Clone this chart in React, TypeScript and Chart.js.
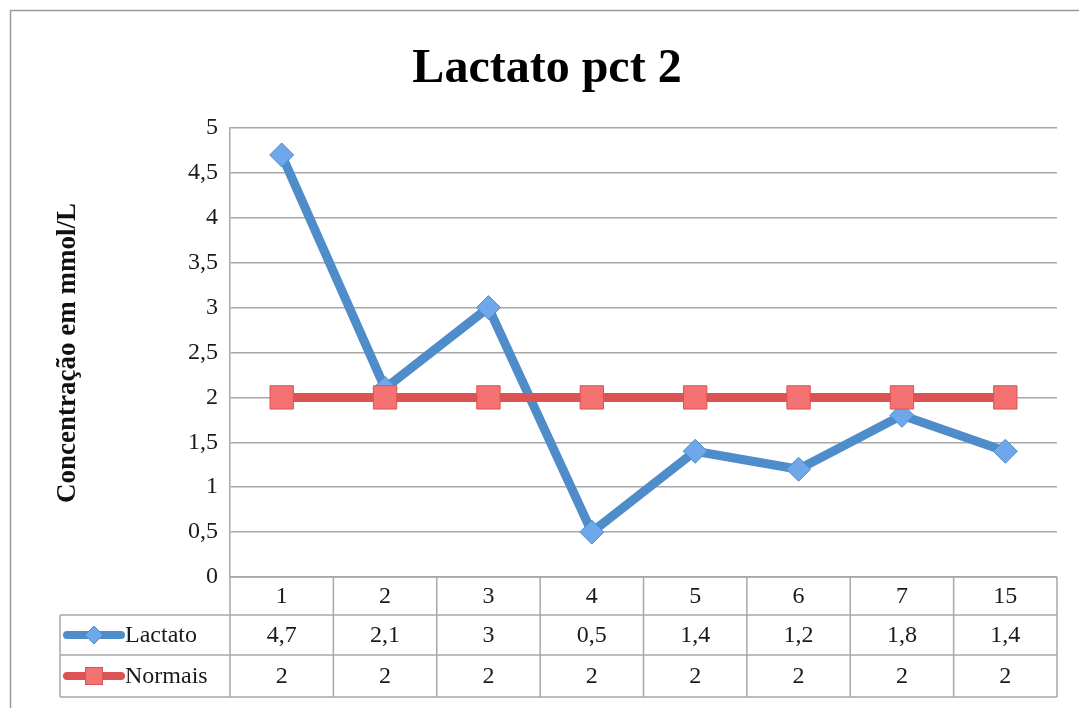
import React, { useEffect, useRef } from "react";
import { Chart, registerables } from "chart.js";

Chart.register(...registerables);

const chartTitle = "Lactato pct 2";
const yAxisTitle = "Concentração em mmol/L";
const categories = ["1", "2", "3", "4", "5", "6", "7", "15"];
const lactatoValues = [4.7, 2.1, 3, 0.5, 1.4, 1.2, 1.8, 1.4];
const normaisValues = [2, 2, 2, 2, 2, 2, 2, 2];
const lactatoTableLabels = ["4,7", "2,1", "3", "0,5", "1,4", "1,2", "1,8", "1,4"];
const normaisTableLabels = ["2", "2", "2", "2", "2", "2", "2", "2"];
const yTickLabels = ["0", "0,5", "1", "1,5", "2", "2,5", "3", "3,5", "4", "4,5", "5"];
const seriesNames = ["Lactato", "Normais"];

const BLUE = "#4f8dca";
const BLUE_FILL = "#6ea8ea";
const RED = "#dc5353";
const RED_FILL = "#f47272";
const GRID = "#a8a8a8";
const SERIF = "'Liberation Serif', 'Times New Roman', serif";

const decorPlugin = {
  id: "decor",
  afterDraw(chart: any) {
    const ctx = chart.ctx as CanvasRenderingContext2D;
    const area = chart.chartArea;
    const xs = chart.scales.x;
    ctx.save();

    // outer frame
    ctx.strokeStyle = "#9a9a9a";
    ctx.lineWidth = 1.5;
    ctx.strokeRect(10.5, 10.5, 1200, 900);

    // title
    ctx.fillStyle = "#000";
    ctx.font = `bold 48px ${SERIF}`;
    ctx.textAlign = "center";
    ctx.textBaseline = "alphabetic";
    ctx.fillText(chartTitle, 547, 82, 272);

    // y axis title
    ctx.save();
    ctx.translate(68, 353);
    ctx.rotate(-Math.PI / 2);
    ctx.font = `bold 27px ${SERIF}`;
    ctx.textAlign = "center";
    ctx.textBaseline = "middle";
    ctx.fillStyle = "#111";
    ctx.fillText(yAxisTitle, 0, 0, 310);
    ctx.restore();

    // data table
    const n = categories.length;
    const step = xs.getPixelForValue(1) - xs.getPixelForValue(0);
    const half = step / 2;
    const left = area.left;
    const right = area.right;
    const rowTops = [area.bottom, area.bottom + 38, area.bottom + 78, area.bottom + 120];
    const tableLeft = 60;

    ctx.strokeStyle = GRID;
    ctx.lineWidth = 1.5;
    ctx.beginPath();
    ctx.moveTo(left, rowTops[0]);
    ctx.lineTo(right, rowTops[0]);
    for (let r = 1; r < rowTops.length; r++) {
      ctx.moveTo(tableLeft, rowTops[r]);
      ctx.lineTo(right, rowTops[r]);
    }
    for (let i = 0; i <= n; i++) {
      const x = i < n ? xs.getPixelForValue(i) - half : xs.getPixelForValue(n - 1) + half;
      ctx.moveTo(x, rowTops[0]);
      ctx.lineTo(x, rowTops[3]);
    }
    ctx.moveTo(tableLeft, rowTops[1]);
    ctx.lineTo(tableLeft, rowTops[3]);
    ctx.stroke();

    ctx.fillStyle = "#1a1a1a";
    ctx.font = `24px ${SERIF}`;
    ctx.textAlign = "center";
    ctx.textBaseline = "middle";
    const rows = [categories, lactatoTableLabels, normaisTableLabels];
    for (let r = 0; r < 3; r++) {
      const yMid = (rowTops[r] + rowTops[r + 1]) / 2 + 1;
      for (let i = 0; i < n; i++) {
        ctx.fillText(rows[r][i], xs.getPixelForValue(i), yMid);
      }
    }

    // legend keys
    for (let s = 0; s < 2; s++) {
      const yMid = (rowTops[s + 1] + rowTops[s + 2]) / 2;
      const color = s === 0 ? BLUE : RED;
      ctx.strokeStyle = color;
      ctx.lineWidth = 8;
      ctx.lineCap = "round";
      ctx.beginPath();
      ctx.moveTo(67, yMid);
      ctx.lineTo(121, yMid);
      ctx.stroke();
      ctx.lineCap = "butt";
      ctx.lineWidth = 1;
      if (s === 0) {
        ctx.fillStyle = BLUE_FILL;
        ctx.strokeStyle = BLUE;
        ctx.beginPath();
        ctx.moveTo(94, yMid - 9);
        ctx.lineTo(103, yMid);
        ctx.lineTo(94, yMid + 9);
        ctx.lineTo(85, yMid);
        ctx.closePath();
        ctx.fill();
        ctx.stroke();
      } else {
        ctx.fillStyle = RED_FILL;
        ctx.strokeStyle = RED;
        ctx.fillRect(85, yMid - 9, 18, 18);
        ctx.strokeRect(85.5, yMid - 8.5, 17, 17);
      }
      ctx.fillStyle = "#1a1a1a";
      ctx.font = `24px ${SERIF}`;
      ctx.textAlign = "left";
      ctx.fillText(seriesNames[s], 125, yMid + 1);
    }

    ctx.restore();
  },
};

export default function App() {
  const canvasRef = useRef<HTMLCanvasElement | null>(null);

  useEffect(() => {
    const canvas = canvasRef.current;
    if (!canvas) return;
    const chart = new Chart(canvas, {
      type: "line",
      data: {
        labels: categories,
        datasets: [
          {
            label: seriesNames[0],
            data: lactatoValues,
            borderColor: BLUE,
            backgroundColor: BLUE_FILL,
            borderWidth: 9,
            tension: 0,
            pointStyle: "rectRot",
            pointRadius: 12,
            pointBorderWidth: 1,
            pointBorderColor: BLUE,
            pointBackgroundColor: BLUE_FILL,
            order: 2,
          },
          {
            label: seriesNames[1],
            data: normaisValues,
            borderColor: RED,
            backgroundColor: RED_FILL,
            borderWidth: 9,
            tension: 0,
            pointStyle: "rect",
            pointRadius: 16.5,
            pointBorderWidth: 1,
            pointBorderColor: RED,
            pointBackgroundColor: RED_FILL,
            order: 1,
          },
        ],
      },
      options: {
        responsive: false,
        animation: false,
        devicePixelRatio: 1,
        layout: { padding: { left: 0, top: 128, right: 22, bottom: 131 } },
        plugins: {
          legend: { display: false },
          title: { display: false },
          tooltip: { enabled: false },
        },
        scales: {
          x: {
            type: "category",
            display: false,
            offset: true,
          },
          y: {
            min: 0,
            max: 5,
            afterFit: (scale: any) => {
              scale.width = 230;
            },
            ticks: {
              stepSize: 0.5,
              padding: 12,
              color: "#1a1a1a",
              font: { family: SERIF, size: 24 },
              callback: (_v: any, i: number) => yTickLabels[i],
            },
            grid: { color: GRID, lineWidth: 1.5, drawTicks: false },
            border: { display: true, color: GRID, width: 1.5 },
          },
        },
      },
      plugins: [decorPlugin],
    });
    return () => chart.destroy();
  }, []);

  return (
    <div style={{ position: "fixed", left: 0, top: 0, width: 1079, height: 708, background: "#fff" }}>
      <canvas ref={canvasRef} width={1079} height={708} style={{ display: "block" }} />
    </div>
  );
}
